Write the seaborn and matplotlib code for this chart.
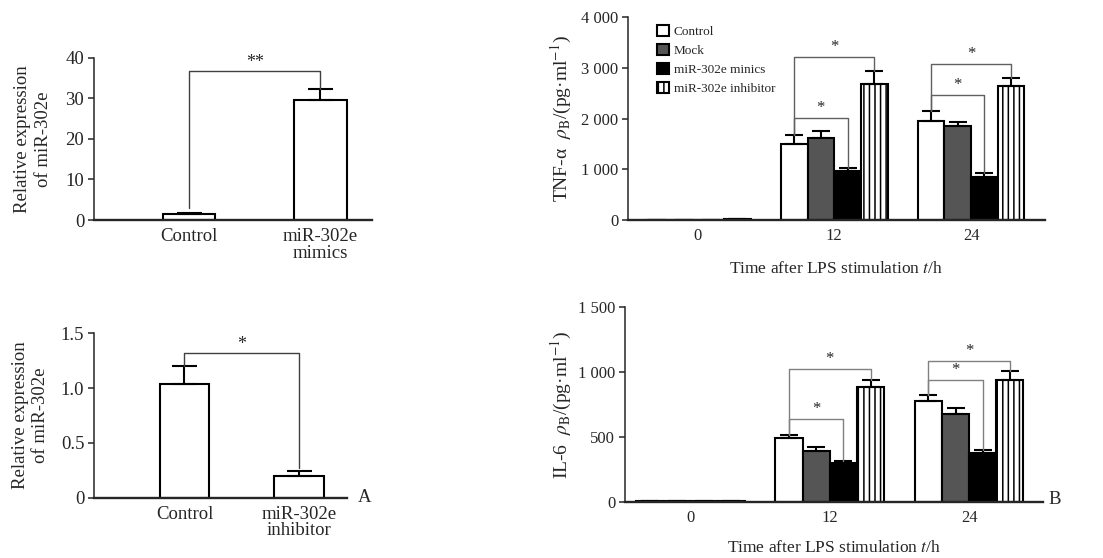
import matplotlib
import matplotlib.pyplot as plt
import pandas as pd
import seaborn as sns

matplotlib.use("Agg")

# panel A, top: mimics
mimic_groups = ["Control", "miR-302e\nmimics"]
mimic_mean = [1.4, 29.5]
mimic_err = [0.3, 2.8]

# panel A, bottom: inhibitor
inhib_groups = ["Control", "miR-302e\ninhibitor"]
inhib_mean = [1.04, 0.20]
inhib_err = [0.16, 0.04]

# panel B: cytokines after LPS
hours = ["0", "12", "24"]
treatments = ["Control", "Mock", "miR-302e minics", "miR-302e inhibitor"]

tnf_control = [5, 1500, 1955]
tnf_mock = [5, 1610, 1855]
tnf_minics = [5, 975, 855]
tnf_inhibitor = [25, 2685, 2650]
tnf_control_err = [0, 170, 195]
tnf_mock_err = [0, 145, 80]
tnf_minics_err = [0, 60, 65]
tnf_inhibitor_err = [0, 250, 160]

il6_control = [10, 492, 778]
il6_mock = [10, 396, 677]
il6_minics = [10, 300, 379]
il6_inhibitor = [10, 886, 942]
il6_control_err = [0, 21, 45]
il6_mock_err = [0, 26, 50]
il6_minics_err = [0, 13, 22]
il6_inhibitor_err = [0, 51, 66]

# significance brackets: (hour index, from, to, bracket height, label)
tnf_sig = [
    (1, "Control", "miR-302e minics", 2010, "*"),
    (1, "Control", "miR-302e inhibitor", 3210, "*"),
    (2, "Control", "miR-302e minics", 2470, "*"),
    (2, "Control", "miR-302e inhibitor", 3080, "*"),
]
il6_sig = [
    (1, "Control", "miR-302e minics", 640, "*"),
    (1, "Control", "miR-302e inhibitor", 1025, "*"),
    (2, "Control", "miR-302e minics", 937, "*"),
    (2, "Control", "miR-302e inhibitor", 1088, "*"),
]

tnf_ticks = [0, 1000, 2000, 3000, 4000]
tnf_ticklabels = ["0", "1 000", "2 000", "3 000", "4 000"]
il6_ticks = [0, 500, 1000, 1500]
il6_ticklabels = ["0", "500", "1 000", "1 500"]

PALETTE = {
    "Control": "white",
    "Mock": "#555555",
    "miR-302e minics": "black",
    "miR-302e inhibitor": "white",
}

sns.set_theme(style="ticks")
plt.rcParams["font.family"] = ["Liberation Serif", "DejaVu Serif"]
plt.rcParams["mathtext.fontset"] = "stix"
plt.rcParams["hatch.linewidth"] = 1.1


def style_axes(ax, fs):
    sns.despine(ax=ax)
    ax.spines["left"].set_linewidth(1.1)
    ax.spines["bottom"].set_linewidth(1.7)
    ax.tick_params(axis="y", length=4, width=1.1, labelsize=fs, pad=3)
    ax.tick_params(axis="x", length=0, labelsize=fs, pad=6)
    for lab in ax.get_xticklabels():
        lab.set_linespacing(0.95)
    ax.set_xlabel("")


def simple_panel(ax, groups, mean, err, width, xlim, ylim, yticks, yticklabels, bracket, ylabel_pad):
    sns.barplot(x=groups, y=mean, ax=ax, color="white", edgecolor="black",
                linewidth=1.5, width=width, saturation=1, errorbar=None)
    ax.errorbar(range(len(groups)), mean, yerr=[[0] * len(err), err], fmt="none",
                ecolor="black", elinewidth=1.5, capsize=9, capthick=1.5)
    ax.set_xlim(*xlim)
    ax.set_ylim(*ylim)
    ax.set_yticks(yticks, yticklabels)
    style_axes(ax, 13.5)
    ax.set_ylabel("Relative expression\nof miR-302e", fontsize=13.5, labelpad=ylabel_pad,
                  linespacing=1.25)
    y_left, y_right, yb, star = bracket
    ax.plot([0, 0, 1, 1], [y_left, yb, yb, y_right], color="#404040", lw=1)
    ax.text(0.5, yb, star, ha="center", va="bottom", fontsize=13)


def grouped_panel(ax, means, errs, sig, ylim, yticks, yticklabels, ylabel, sig_color,
                  ylabel_pad, xlabel_pad):
    rows = []
    for t, m, e in zip(treatments, means, errs):
        for h, v, s in zip(hours, m, e):
            rows.append({"hour": h, "treatment": t, "value": v, "err": s})
    df = pd.DataFrame(rows)

    sns.barplot(data=df, x="hour", y="value", hue="treatment", hue_order=treatments,
                palette=PALETTE, edgecolor="black", linewidth=1.5, width=0.78,
                saturation=1, errorbar=None, legend=False, ax=ax)

    centers = {}
    tops = {}
    for t, cont, e in zip(treatments, ax.containers, errs):
        cont.set_label(t)
        xs = [p.get_x() + p.get_width() / 2 for p in cont.patches]
        ys = [p.get_height() for p in cont.patches]
        if t == "miR-302e inhibitor":
            for p in cont.patches:
                p.set_hatch("|||")
        ax.errorbar(xs, ys, yerr=[[0] * len(e), e], fmt="none", ecolor="black",
                    elinewidth=1.5, capsize=6.5, capthick=1.5)
        centers[t] = xs
        tops[t] = [y + s for y, s in zip(ys, e)]

    for i, a, b, yb, star in sig:
        xa, xb = centers[a][i], centers[b][i]
        ax.plot([xa, xa, xb, xb], [tops[a][i], yb, yb, tops[b][i]], color=sig_color, lw=1)
        ax.text((xa + xb) / 2, yb + ylim[1] * 0.01, star, ha="center", va="bottom", fontsize=12)

    ax.set_ylim(*ylim)
    ax.set_yticks(yticks, yticklabels)
    style_axes(ax, 12)
    ax.set_ylabel(ylabel, fontsize=14, labelpad=ylabel_pad)
    ax.set_xlabel("Time after LPS stimulation $t$/h", fontsize=12.5, labelpad=xlabel_pad)
    return ax


fig = plt.figure(figsize=(11.03, 5.58), dpi=100)

ax1 = fig.add_axes([0.0852, 0.6057, 0.2520, 0.2910])
simple_panel(ax1, mimic_groups, mimic_mean, mimic_err, 0.40, (-0.722, 1.392), (0, 40),
             [0, 10, 20, 30, 40], ["0", "10", "20", "30", "40"],
             (3.0, mimic_mean[1] + mimic_err[1], 36.7, "**"), 10)

ax2 = fig.add_axes([0.0852, 0.1080, 0.2294, 0.2947])
simple_panel(ax2, inhib_groups, inhib_mean, inhib_err, 0.43, (-0.79, 1.419), (0, 1.5),
             [0, 0.5, 1.0, 1.5], ["0", "0.5", "1.0", "1.5"],
             (inhib_mean[0] + inhib_err[0], 0.27, 1.32, "*"), 8.5)

ax3 = fig.add_axes([0.5693, 0.6057, 0.3781, 0.3633])
grouped_panel(ax3,
              [tnf_control, tnf_mock, tnf_minics, tnf_inhibitor],
              [tnf_control_err, tnf_mock_err, tnf_minics_err, tnf_inhibitor_err],
              tnf_sig, (0, 4000), tnf_ticks, tnf_ticklabels,
              "TNF-α  $\\rho_\\mathrm{B}$/(pg·ml$^{-1}$)", "#606060", 5, 12)
ax3.set_xlim(-0.507, 2.54)
ax3.legend(ax3.containers, treatments, loc="upper left", bbox_to_anchor=(0.05, 1.0),
           frameon=False, fontsize=9.5, handlelength=0.9, handleheight=0.9,
           handletextpad=0.4, labelspacing=0.45, borderaxespad=0.2)

ax4 = fig.add_axes([0.5666, 0.1004, 0.3790, 0.3490])
grouped_panel(ax4,
              [il6_control, il6_mock, il6_minics, il6_inhibitor],
              [il6_control_err, il6_mock_err, il6_minics_err, il6_inhibitor_err],
              il6_sig, (0, 1500), il6_ticks, il6_ticklabels,
              "IL-6  $\\rho_\\mathrm{B}$/(pg·ml$^{-1}$)", "#808080", 3, 10)
ax4.set_xlim(-0.47, 2.53)

fig.text(365 / 1103, 1 - 497 / 558, "A", fontsize=13.5, ha="center", va="center")
fig.text(1055 / 1103, 1 - 500 / 558, "B", fontsize=13.5, ha="center", va="center")

fig.savefig("out.png", dpi=100)
plt.close(fig)
